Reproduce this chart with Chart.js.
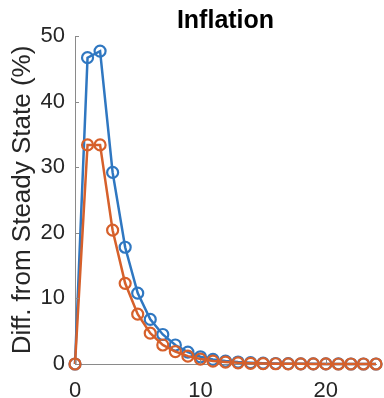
<!DOCTYPE html>
<html>
<head>
<meta charset="utf-8">
<script src="https://cdn.jsdelivr.net/npm/chart.js@4/dist/chart.umd.min.js"></script>
<style>
html,body{margin:0;padding:0;background:#fff;}
#wrap{width:384px;height:398px;position:relative;}
</style>
</head>
<body>
<div id="wrap"><canvas id="c" width="384" height="398"></canvas></div>
<script>
const periods = [0,1,2,3,4,5,6,7,8,9,10,11,12,13,14,15,16,17,18,19,20,21,22,23,24];
const blueSeries = [0, 46.7, 47.7, 29.2, 17.8, 10.8, 6.8, 4.5, 2.9, 1.8, 1.1, 0.7, 0.45, 0.3, 0.2, 0.12, 0.08, 0.05, 0.03, 0.02, 0.01, 0.01, 0.0, 0.0, 0.0];
const orangeSeries = [0, 33.4, 33.4, 20.4, 12.3, 7.6, 4.7, 2.9, 1.9, 1.2, 0.75, 0.45, 0.3, 0.18, 0.11, 0.07, 0.04, 0.03, 0.02, 0.01, 0.01, 0.0, 0.0, 0.0, 0.0];
const xTicks = [0, 10, 20];
const yTicks = [0, 10, 20, 30, 40, 50];
const titleText = 'Inflation';
const yLabel = 'Diff. from Steady State (%)';

const inwardTicks = {
  id: 'inwardTicks',
  afterDatasetsDraw(chart) {
    const ctx = chart.ctx;
    const xs = chart.scales.x, ys = chart.scales.y;
    const a = chart.chartArea;
    ctx.save();
    ctx.strokeStyle = '#8a8a8a';
    ctx.lineWidth = 1;
    ctx.beginPath();
    yTicks.forEach(v => {
      const y = Math.round(ys.getPixelForValue(v)) + 0.5;
      ctx.moveTo(a.left, y); ctx.lineTo(a.left + 4, y);
    });
    xTicks.forEach(v => {
      const x = Math.round(xs.getPixelForValue(v)) + 0.5;
      ctx.moveTo(x, a.bottom); ctx.lineTo(x, a.bottom - 4);
    });
    ctx.stroke();
    ctx.restore();
  }
};

const tickFont = {family: 'Liberation Sans, Arial, sans-serif', size: 22};
const blue = '#2F77C1';
const orange = '#D6602B';

new Chart(document.getElementById('c'), {
  type: 'line',
  data: {
    labels: periods,
    datasets: [
      {
        data: periods.map((p, i) => ({x: p, y: blueSeries[i]})),
        borderColor: blue,
        backgroundColor: 'transparent',
        pointBorderColor: blue,
        pointBackgroundColor: 'rgba(0,0,0,0)',
        borderWidth: 2.5,
        pointRadius: 5.5,
        pointBorderWidth: 2.2,
        tension: 0,
        clip: false,
        order: 1
      },
      {
        data: periods.map((p, i) => ({x: p, y: orangeSeries[i]})),
        borderColor: orange,
        backgroundColor: 'transparent',
        pointBorderColor: orange,
        pointBackgroundColor: 'rgba(0,0,0,0)',
        borderWidth: 2.5,
        pointRadius: 5.5,
        pointBorderWidth: 2.2,
        tension: 0,
        clip: false,
        order: 0
      }
    ]
  },
  options: {
    responsive: false,
    animation: false,
    events: [],
    layout: {padding: {left: 0, right: 8, top: 0, bottom: 0}},
    plugins: {
      legend: {display: false},
      tooltip: {enabled: false},
      title: {
        display: true,
        fullSize: false,
        text: titleText,
        color: '#000',
        font: {family: 'Liberation Sans, Arial, sans-serif', size: 25, weight: 'bold'},
        padding: {top: 6, bottom: 0}
      }
    },
    scales: {
      x: {
        type: 'linear',
        min: 0, max: 24,
        afterBuildTicks: s => { s.ticks = xTicks.map(v => ({value: v})); },
        afterFit: s => { s.height = 34; },
        grid: {display: false, drawTicks: false},
        border: {display: true, color: '#8a8a8a', width: 1},
        ticks: {color: '#262626', font: tickFont, padding: 14, maxRotation: 0, autoSkip: false}
      },
      y: {
        type: 'linear',
        min: 0, max: 50,
        afterBuildTicks: s => { s.ticks = yTicks.map(v => ({value: v})); },
        afterFit: s => { s.width = 75; },
        grid: {display: false, drawTicks: false},
        border: {display: true, color: '#8a8a8a', width: 1},
        ticks: {color: '#262626', font: tickFont, padding: 10, autoSkip: false},
        title: {
          display: true,
          text: yLabel,
          color: '#262626',
          font: {family: 'Liberation Sans, Arial, sans-serif', size: 26},
          padding: {top: 7, bottom: 0}
        }
      }
    }
  },
  plugins: [inwardTicks]
});
</script>
</body>
</html>
